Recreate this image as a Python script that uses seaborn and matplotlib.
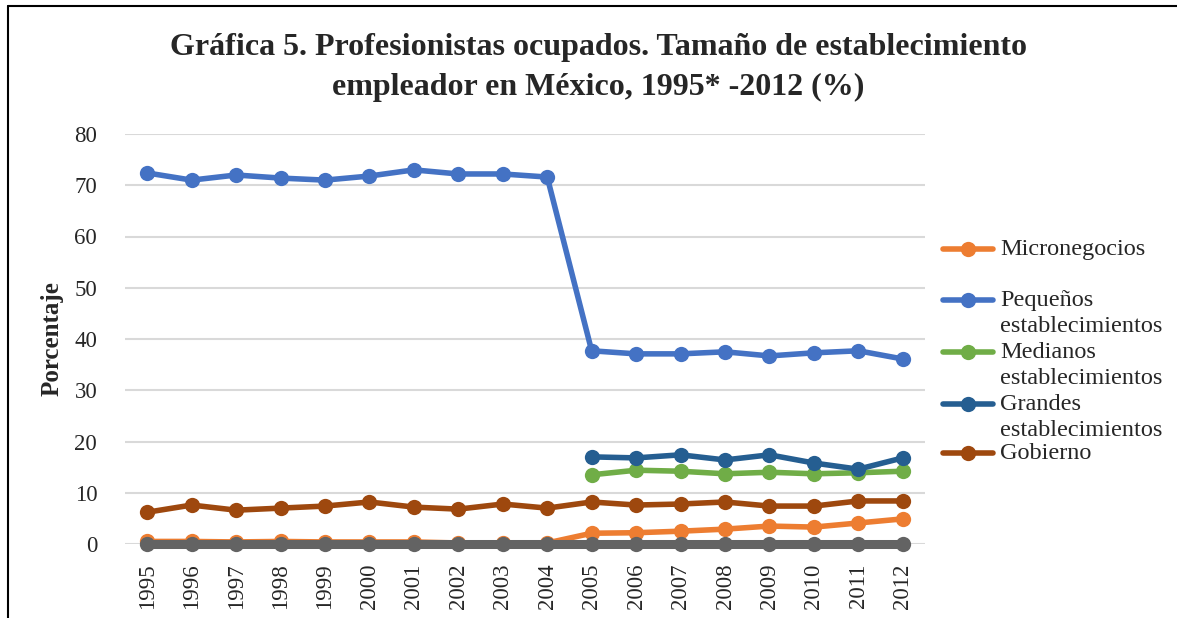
import seaborn as sns
import matplotlib.pyplot as plt
import pandas as pd
from matplotlib.lines import Line2D

years = list(range(1995, 2013))
micro = [0.5, 0.5, 0.4, 0.5, 0.4, 0.4, 0.4, 0.2, 0.2, 0.2,
         2.1, 2.2, 2.5, 2.9, 3.5, 3.3, 4.1, 4.9]
pequenos = [72.4, 71.0, 72.0, 71.4, 71.0, 71.8, 73.0, 72.2, 72.2, 71.6,
            37.7, 37.1, 37.1, 37.5, 36.7, 37.3, 37.7, 36.1]
medianos = [None] * 10 + [13.5, 14.4, 14.2, 13.7, 14.0, 13.7, 13.9, 14.2]
grandes = [None] * 10 + [17.0, 16.8, 17.4, 16.4, 17.4, 15.8, 14.6, 16.8]
gobierno = [6.2, 7.6, 6.6, 7.0, 7.4, 8.2, 7.2, 6.8, 7.8, 7.0,
            8.2, 7.6, 7.8, 8.2, 7.4, 7.4, 8.4, 8.4]
otros = [0.0] * 18

series = {
    "Micronegocios": micro,
    "Pequeños\nestablecimientos": pequenos,
    "Medianos\nestablecimientos": medianos,
    "Grandes\nestablecimientos": grandes,
    "Gobierno": gobierno,
    "Otros": otros,
}
colors = ["#ED7D31", "#4472C4", "#70AD47", "#255E91", "#9E480E", "#636363"]

rows = []
for name, vals in series.items():
    for y, v in zip(years, vals):
        if v is not None:
            rows.append({"anio": y, "valor": v, "serie": name})
df = pd.DataFrame(rows)

sns.set_style("white")
plt.rcParams["font.family"] = ["Liberation Serif", "DejaVu Serif"]

fig = plt.figure(figsize=(11.77, 6.18), dpi=100)
ax = fig.add_axes([125 / 1177, 1 - 544 / 618, 800 / 1177, 410 / 618])

for (name, vals), c in zip(series.items(), colors):
    sub = df[df["serie"] == name]
    lw = 6.5 if name == "Otros" else 4
    sns.lineplot(data=sub, x="anio", y="valor", color=c, marker="o",
                 markersize=11, markeredgewidth=0, linewidth=lw, ax=ax,
                 legend=False, zorder=3, clip_on=False)

ax.set_xlim(1994.5, 2012.5)
ax.set_ylim(0, 80)
ax.set_yticks(range(0, 81, 10))
ax.set_xticks(years)
ax.set_xticklabels([str(y) for y in years], rotation=90, fontsize=16.5)
ax.tick_params(axis="y", labelsize=16.5, length=0, pad=20)
ax.tick_params(axis="x", length=0, pad=14)
ax.grid(axis="y", color="#D9D9D9", linewidth=1.5, zorder=0)
for s in ax.spines.values():
    s.set_visible(False)
ax.set_xlabel("")
ax.set_ylabel("Porcentaje", fontsize=18, fontweight="bold", labelpad=8)

fig.text(598 / 1177, 1 - 48 / 618,
         "Gráfica 5. Profesionistas ocupados. Tamaño de establecimiento",
         ha="center", va="center", fontsize=23, fontweight="bold")
fig.text(598 / 1177, 1 - 87 / 618,
         "empleador en México, 1995* -2012 (%)",
         ha="center", va="center", fontsize=23, fontweight="bold")

# manual legend, handle aligned with first text line
leg_y = [249, 300, 352, 404, 453]
for (name, c, yy) in zip(list(series.keys())[:5], colors[:5], leg_y):
    yf = 1 - yy / 618
    fig.add_artist(Line2D([943 / 1177, 993 / 1177], [yf, yf],
                          transform=fig.transFigure, color=c, linewidth=4))
    fig.add_artist(Line2D([968 / 1177], [yf], transform=fig.transFigure,
                          color=c, marker="o", markersize=11,
                          markeredgewidth=0))
    fig.text(1000 / 1177, yf + 0.016, name, ha="left", va="top",
             fontsize=17.5, linespacing=1.3)

# frame around the chart
fig.add_artist(Line2D([8 / 1177, 8 / 1177], [0, 1 - 6 / 618],
                      transform=fig.transFigure, color="black", linewidth=1.5))
fig.add_artist(Line2D([8 / 1177, 1], [1 - 6 / 618, 1 - 6 / 618],
                      transform=fig.transFigure, color="black", linewidth=1.5))

fig.savefig("out.png", dpi=100)
